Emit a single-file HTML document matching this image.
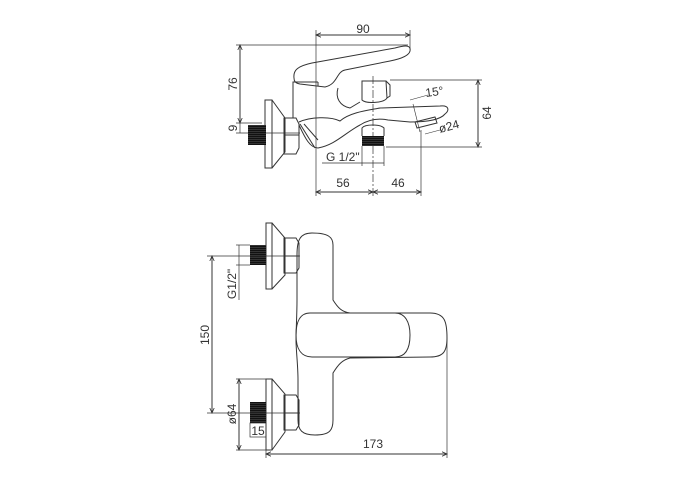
<!DOCTYPE html>
<html><head><meta charset="utf-8"><style>
html,body{margin:0;padding:0;background:#fff;}
svg{display:block;}
text{font-family:"Liberation Sans",sans-serif;font-size:12px;fill:#333;}
</style></head><body>
<svg width="700" height="500" viewBox="0 0 700 500" xmlns="http://www.w3.org/2000/svg">
<defs>
<pattern id="th" width="2" height="2" patternUnits="userSpaceOnUse"><rect width="2" height="2" fill="#333"/><rect width="2" height="1" fill="#111"/></pattern>
<marker id="a" markerWidth="6" markerHeight="6" refX="5" refY="3" orient="auto-start-reverse"><path d="M0,0.8 L5,3 L0,5.2" fill="none" stroke="#333" stroke-width="0.8"/></marker>
</defs>
<g fill="none" stroke="#333" stroke-width="1">
<line x1="316" y1="35" x2="410" y2="35" marker-start="url(#a)" marker-end="url(#a)"/>
<line x1="316" y1="30" x2="316" y2="196" stroke-width="0.7"/>
<line x1="410" y1="30" x2="410" y2="48" stroke-width="0.7"/>
<line x1="236" y1="45" x2="408" y2="45" stroke-width="0.7"/>
<line x1="240" y1="45" x2="240" y2="123" marker-start="url(#a)" marker-end="url(#a)"/>
<line x1="236" y1="123" x2="262" y2="123" stroke-width="0.7"/>
<line x1="236" y1="133" x2="300" y2="133" stroke-width="0.7"/>
<line x1="240" y1="123" x2="240" y2="133" stroke-width="0.7"/>
<line x1="390" y1="80" x2="482" y2="80" stroke-width="0.7"/>
<line x1="386" y1="147" x2="482" y2="147" stroke-width="0.7"/>
<line x1="478" y1="80" x2="478" y2="147" marker-start="url(#a)" marker-end="url(#a)"/>
<line x1="316" y1="192" x2="373" y2="192" marker-start="url(#a)" marker-end="url(#a)"/>
<line x1="373" y1="192" x2="421" y2="192" marker-start="url(#a)" marker-end="url(#a)"/>
<line x1="421" y1="130" x2="421" y2="196" stroke-width="0.7"/>
<line x1="373" y1="76" x2="373" y2="196" stroke-width="0.7" stroke-dasharray="8,2,2,2"/>
<line x1="322" y1="163" x2="384" y2="163" stroke-width="0.7"/>
<line x1="362" y1="146" x2="362" y2="166" stroke-width="0.7"/>
<line x1="384" y1="146" x2="384" y2="166" stroke-width="0.7"/>
<rect x="265" y="100" width="7" height="68"/>
<path d="M272,100 L285,118 L285,152 L272,168"/>
<rect x="248" y="125" width="18" height="20" fill="url(#th)" stroke="none"/>
<path d="M284,118 L296,118 L299,124 L299,148 L296,154 L284,154 Z M284,135 L299,135"/>
<path d="M293,118 L293,82 L318,82"/>
<path d="M294,78 C293,70 298,66 312,63 L395,48 C406,45 411,45 410,51 C409,56 400,59 390,61 L345,70 C336,72 338,84 325,87 L300,84 C295,83 294,81 294,78 Z"/>
<path d="M318,82 L318,86"/>
<path d="M299,122 C310,117 330,116 340,121 C350,112 370,110 380,108 L440,106 C450,105 449,111 445,114 C440,120 425,122 410,122 L388,120 C378,118 368,120 360,125 C345,133 335,145 318,148 C310,148 305,138 299,125"/>
<path d="M338,88 C335,98 340,106 350,108 L360,102"/>
<path d="M362,81 L386,81 L387,98 C384,103 366,104 362,100 Z"/>
<path d="M386,81 L390,85 L390,96 L387,98"/>
<path d="M300,124 L315,148 M304,124 L318,140"/>
<rect x="362" y="136" width="22" height="10" fill="url(#th)" stroke="none"/>
<path d="M362,136 L362,128 C365,124 380,124 384,128 L384,136"/>
<path d="M415,122 L435,117 L437,123 L417,128 Z"/>
<path d="M413,104 L420,132 M410,100 L428,95 M425,134 L440,130" stroke-width="0.6"/>
<rect x="266" y="223" width="6" height="66"/>
<path d="M272,223 L285,238 L285,275 L272,289"/>
<rect x="250" y="245" width="16" height="20" fill="url(#th)" stroke="none"/>
<path d="M284,238 L296,238 L299,243 L299,268 L296,273 L284,273 Z M284,256 L299,256"/>
<rect x="266" y="379" width="6" height="71"/>
<path d="M272,379 L285,394 L285,432 L272,450"/>
<rect x="250" y="402" width="16" height="21" fill="url(#th)" stroke="none"/>
<path d="M284,395 L296,395 L299,400 L299,425 L296,430 L284,430 Z M284,413 L299,413"/>
<path d="M312,233 C300,233 297,240 297,255 L297,300 C297,315 296,330 296,340 C296,350 298,365 298,380 L298,420 C298,430 302,435 315,435 C330,435 333,430 333,420 L333,373 C338,365 342,360 350,358 L430,357 C443,357 447,352 447,338 C447,322 445,313 430,313 L350,313 C342,312 338,308 333,300 L333,245 C333,237 328,233 312,233 Z"/>
<path d="M310,313 C300,313 296,322 296,335 C296,350 302,357 312,357 L395,357 C405,357 410,350 410,335 C410,322 405,313 395,313 Z"/>
<line x1="207" y1="256" x2="300" y2="256" stroke-width="0.7"/>
<line x1="207" y1="413" x2="300" y2="413" stroke-width="0.7"/>
<line x1="212" y1="256" x2="212" y2="413" marker-start="url(#a)" marker-end="url(#a)"/>
<line x1="236" y1="245" x2="250" y2="245" stroke-width="0.7"/>
<line x1="236" y1="265" x2="250" y2="265" stroke-width="0.7"/>
<line x1="239" y1="245" x2="239" y2="300" stroke-width="0.7"/>
<line x1="236" y1="379" x2="266" y2="379" stroke-width="0.7"/>
<line x1="236" y1="450" x2="266" y2="450" stroke-width="0.7"/>
<line x1="239" y1="379" x2="239" y2="450" marker-start="url(#a)" marker-end="url(#a)"/>
<rect x="250" y="423" width="16" height="14" stroke-width="0.7"/>
<line x1="266" y1="450" x2="266" y2="458" stroke-width="0.7"/>
<line x1="447" y1="338" x2="447" y2="458" stroke-width="0.7"/>
<line x1="266" y1="454" x2="447" y2="454" marker-start="url(#a)" marker-end="url(#a)"/>
</g>
<g>
<text x="363" y="33" text-anchor="middle">90</text>
<text transform="translate(237,84) rotate(-90)" text-anchor="middle">76</text>
<text transform="translate(237,128) rotate(-90)" text-anchor="middle">9</text>
<text transform="translate(491,113) rotate(-90)" text-anchor="middle">64</text>
<text x="426" y="97" font-size="11" transform="rotate(-8 426 97)">15°</text>
<text x="440" y="133" font-size="11" transform="rotate(-15 440 133)">ø24</text>
<text x="343" y="187" text-anchor="middle">56</text>
<text x="398" y="187" text-anchor="middle">46</text>
<text x="326" y="161">G 1/2"</text>
<text transform="translate(236,284) rotate(-90)" text-anchor="middle">G1/2"</text>
<text transform="translate(209,335) rotate(-90)" text-anchor="middle">150</text>
<text transform="translate(236,414) rotate(-90)" text-anchor="middle">ø64</text>
<text x="258" y="435" text-anchor="middle" font-size="10">15</text>
<text x="373" y="448" text-anchor="middle">173</text>
</g>
</svg>
</body></html>
